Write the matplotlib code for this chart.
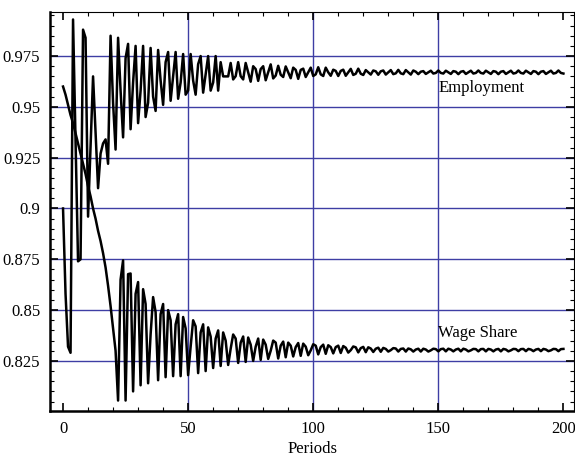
import matplotlib
matplotlib.use("Agg")
import matplotlib.pyplot as plt

plt.rcParams['font.family'] = ['Liberation Serif', 'DejaVu Serif']

# employment rate, periods 0..200
employment = [0.900, 0.858, 0.832, 0.829, 0.993, 0.934, 0.874, 0.875, 0.988, 0.984,
              0.896, 0.931, 0.965, 0.938, 0.910, 0.927, 0.932, 0.934, 0.922,
              0.985, 0.952, 0.929, 0.984, 0.958, 0.935, 0.974, 0.981, 0.939, 0.962,
              0.980, 0.942, 0.958, 0.980, 0.945, 0.952, 0.979, 0.955, 0.948, 0.978,
              0.963, 0.951, 0.972, 0.977, 0.953, 0.965, 0.977, 0.954, 0.962, 0.976,
              0.956, 0.958, 0.976, 0.963, 0.956, 0.971, 0.975, 0.957, 0.966, 0.975,
              0.958, 0.962, 0.975, 0.958, 0.972, 0.965, 0.965, 0.965,
              0.9716, 0.9635, 0.9651, 0.9720, 0.9651, 0.9635, 0.9716, 0.9670, 0.9624,
              0.9700, 0.9686, 0.9628, 0.9686, 0.9700, 0.9631, 0.9670, 0.9709, 0.9640,
              0.9654, 0.9702, 0.9658, 0.9647, 0.9699, 0.9670, 0.9641, 0.9693, 0.9682,
              0.9638, 0.9682, 0.9688, 0.9647, 0.9670, 0.9693, 0.9652, 0.9660, 0.9695,
              0.9660, 0.9652, 0.9693, 0.9670, 0.9653, 0.9683, 0.9677, 0.9652, 0.9677,
              0.9683, 0.9653, 0.9670, 0.9687, 0.9657, 0.9663, 0.9688, 0.9663, 0.9657,
              0.9681, 0.9670, 0.9659, 0.9679, 0.9675, 0.9658, 0.9675, 0.9679, 0.9659,
              0.9670, 0.9681, 0.9661, 0.9665, 0.9682, 0.9665, 0.9661, 0.9681, 0.9670,
              0.9659, 0.9679, 0.9673, 0.9661, 0.9673, 0.9676, 0.9662, 0.9670,
              0.9678, 0.9664, 0.9667, 0.9679, 0.9667, 0.9664, 0.9678, 0.9670,
              0.9662, 0.9676, 0.9673, 0.9661, 0.9673, 0.9676, 0.9662, 0.9670,
              0.9678, 0.9664, 0.9667, 0.9679, 0.9667, 0.9664, 0.9678, 0.9670,
              0.9662, 0.9676, 0.9673, 0.9661, 0.9673, 0.9676, 0.9662, 0.9670,
              0.9678, 0.9664, 0.9667, 0.9679, 0.9667, 0.9664, 0.9678, 0.9670,
              0.9662, 0.9676, 0.9673, 0.9661, 0.9673, 0.9676, 0.9662, 0.9670,
              0.9678, 0.9664, 0.9667, 0.9679, 0.9667, 0.9664]

# wage share, periods 0..200
wage_share = [0.960, 0.956, 0.951, 0.946, 0.942, 0.937, 0.932, 0.927, 0.922, 0.917,
              0.911, 0.906, 0.900, 0.895, 0.889, 0.884, 0.878, 0.871, 0.862, 0.852,
              0.841, 0.830,
              0.8055, 0.865, 0.8745, 0.8055, 0.8677, 0.868, 0.810, 0.858, 0.8638,
              0.813, 0.8603, 0.853, 0.814, 0.838, 0.8564, 0.849, 0.8155, 0.848, 0.853,
              0.817, 0.850, 0.845, 0.8175, 0.843, 0.848, 0.8175, 0.8466, 0.841,
              0.818, 0.832, 0.845, 0.842, 0.819, 0.839, 0.843, 0.820, 0.8415, 0.837,
              0.8215, 0.836, 0.840, 0.8225, 0.839, 0.835, 0.823, 0.831, 0.838, 0.836,
              0.824, 0.834, 0.837, 0.8245, 0.8365, 0.833, 0.825, 0.832, 0.836,
              0.8255, 0.8355, 0.833, 0.826, 0.830, 0.835, 0.834, 0.8262, 0.8325, 0.8345,
              0.8268, 0.834, 0.8325, 0.8272, 0.8318, 0.8338, 0.8275, 0.8335, 0.832,
              0.8278, 0.8302, 0.8332, 0.8325, 0.8282, 0.8318, 0.833, 0.8285, 0.8327, 0.8318,
              0.8287, 0.8318, 0.8325, 0.8289, 0.8323, 0.8315, 0.8291, 0.8303, 0.8321, 0.8317,
              0.8292, 0.8313, 0.8319, 0.8293, 0.8317, 0.8311, 0.8294, 0.8310, 0.8315,
              0.8295, 0.8314, 0.8309, 0.8296, 0.8303, 0.8313, 0.8311,
              0.8296, 0.8309, 0.8311, 0.8296, 0.8311, 0.8307, 0.8296, 0.8306, 0.8310,
              0.8296, 0.8310, 0.8306, 0.8296, 0.8302, 0.8310, 0.8308,
              0.8297, 0.8308, 0.8310, 0.8297, 0.8310, 0.8306, 0.8297, 0.8306, 0.8310,
              0.8297, 0.8310, 0.8306, 0.8297, 0.8302, 0.8309, 0.8308,
              0.8297, 0.8308, 0.8309, 0.8297, 0.8309, 0.8306, 0.8297, 0.8306, 0.8309,
              0.8297, 0.8309, 0.8306, 0.8297, 0.8302, 0.8309, 0.8308,
              0.8298, 0.8308, 0.8309, 0.8298, 0.8309, 0.8306, 0.8298, 0.8306, 0.8309,
              0.8298, 0.8309, 0.8306, 0.8298, 0.8302, 0.8309, 0.8308,
              0.8298, 0.8308, 0.8309]

x_ticks = [0, 50, 100, 150, 200]
y_ticks = [0.825, 0.85, 0.875, 0.9, 0.925, 0.95, 0.975]
y_labels = ["0.825", "0.85", "0.875", "0.9", "0.925", "0.95", "0.975"]

fig = plt.figure(figsize=(5.75, 4.68), dpi=100)
ax = fig.add_axes([0.087, 0.122, 0.912, 0.852])

grid_col = '#3e3ea4'
for v in y_ticks:
    ax.axhline(v, color=grid_col, lw=1.0, zorder=1)
for v in [50, 100, 150]:
    ax.axvline(v, color=grid_col, lw=1.0, zorder=1)

ax.plot(range(len(employment)), employment, color='black', lw=1.8, zorder=3)
ax.plot(range(len(wage_share)), wage_share, color='black', lw=1.8, zorder=3)

ax.text(150, 0.9594, "Employment", fontsize=12, va='center', ha='left')
ax.text(150, 0.8386, "Wage Share", fontsize=12, va='center', ha='left')

ax.set_xlim(-5.2, 204.4)
ax.set_ylim(0.8004, 0.9966)

ax.set_xticks(x_ticks)
ax.set_xticklabels([str(t) for t in x_ticks], fontsize=12)
ax.set_xticks(range(0, 201, 10), minor=True)
ax.set_yticks(y_ticks)
ax.set_yticklabels(y_labels, fontsize=12)
ax.set_yticks([0.805 + 0.005 * i for i in range(39)], minor=True)

ax.tick_params(which='both', direction='in', top=True, right=True)
ax.tick_params(which='major', length=6, width=1.2)
ax.tick_params(which='minor', length=3, width=0.8)
ax.tick_params(axis='x', which='major', pad=7)
ax.tick_params(axis='y', which='major', pad=7)

for s in ['left', 'bottom']:
    ax.spines[s].set_linewidth(1.8)
for s in ['top', 'right']:
    ax.spines[s].set_linewidth(0.8)

ax.set_xlabel("Periods", fontsize=12, labelpad=3)

fig.savefig("out.png", dpi=100)
